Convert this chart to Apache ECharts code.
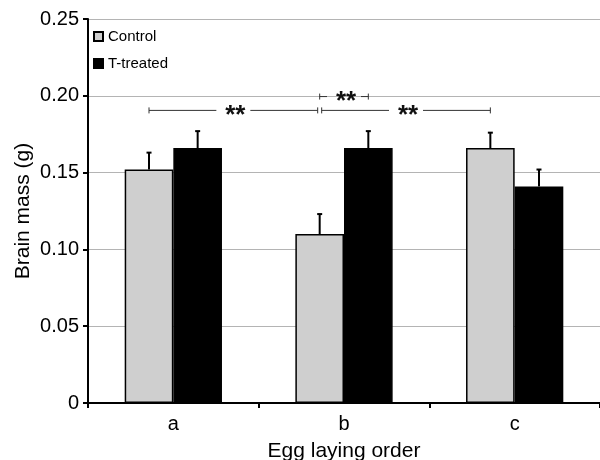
<!DOCTYPE html>
<html>
<head>
<meta charset="utf-8">
<script src="https://cdn.jsdelivr.net/npm/echarts@6/dist/echarts.min.js"></script>
<style>html,body{margin:0;padding:0;background:#fff}#c{width:600px;height:460px}</style>
</head>
<body>
<div id="c"></div>
<script>
var categories = ['a', 'b', 'c'];
var seriesNames = ['Control', 'T-treated'];
var controlMean = [0.152, 0.110, 0.166];
var controlErr = [0.011, 0.013, 0.010];
var treatedMean = [0.166, 0.166, 0.141];
var treatedErr = [0.011, 0.011, 0.011];
var yTicks = [0, 0.05, 0.10, 0.15, 0.20, 0.25];
// significance brackets: [fromCategory, fromSeries, toCategory, toSeries, height]
var bracketFrom = [[0, 0], [1, 0], [1, 0]];
var bracketTo = [[1, 0], [2, 0], [1, 1]];
var bracketY = [0.1905, 0.1905, 0.1995];
var bracketLabel = ['**', '**', '**'];

var FONT = 'Liberation Sans, Arial, sans-serif';
var BAR_GAP_CAT = 0.43;
var sideOffset = (1 - BAR_GAP_CAT) / 4; // fraction of band from category center to bar center

function errData(mean, err) {
  return mean.map(function (m, i) { return [i, m, err[i]]; });
}
function errRender(sideSign) {
  return function (params, api) {
    var x = api.value(0), m = api.value(1), e = api.value(2);
    var band = api.size([1, 0])[0];
    var p0 = api.coord([x, m]);
    var p1 = api.coord([x, m + e]);
    var cx = p0[0] + sideSign * band * sideOffset;
    var st = { stroke: '#000', lineWidth: 2 };
    return {
      type: 'group',
      children: [
        { type: 'line', shape: { x1: cx, y1: p0[1], x2: cx, y2: p1[1] }, style: st },
        { type: 'line', shape: { x1: cx - 2.5, y1: p1[1], x2: cx + 2.5, y2: p1[1] }, style: st }
      ]
    };
  };
}

var bracketData = bracketFrom.map(function (f, i) {
  return [f[0], f[1], bracketTo[i][0], bracketTo[i][1], bracketY[i]];
});

function bracketRender(params, api) {
  var band = api.size([1, 0])[0];
  var a = api.coord([api.value(0), api.value(4)]);
  var b = api.coord([api.value(2), api.value(4)]);
  var x1 = a[0] + (api.value(1) === 0 ? -1 : 1) * band * sideOffset;
  var x2 = b[0] + (api.value(3) === 0 ? -1 : 1) * band * sideOffset;
  if (params.dataIndex === 0) x2 -= 2;
  if (params.dataIndex === 1) x1 += 2;
  var y = a[1];
  var mid = (x1 + x2) / 2;
  var half = 17;
  var st = { stroke: '#333', lineWidth: 1 };
  return {
    type: 'group',
    children: [
      { type: 'line', shape: { x1: x1, y1: y, x2: mid - half, y2: y }, style: st },
      { type: 'line', shape: { x1: mid + half, y1: y, x2: x2, y2: y }, style: st },
      { type: 'line', shape: { x1: x1, y1: y - 3, x2: x1, y2: y + 3 }, style: st },
      { type: 'line', shape: { x1: x2, y1: y - 3, x2: x2, y2: y + 3 }, style: st },
      { type: 'text', style: { text: bracketLabel[params.dataIndex], x: mid + 2, y: y + 5, align: 'center', verticalAlign: 'middle', font: 'bold 26px ' + FONT, fill: '#111' } }
    ]
  };
}

var chart = echarts.init(document.getElementById('c'), null, { renderer: 'canvas' });
chart.setOption({
  animation: false,
  textStyle: { fontFamily: FONT },
  grid: { left: 88, right: 0, top: 19, bottom: 57, containLabel: false, outerBoundsMode: 'none' },
  legend: {
    orient: 'vertical', left: 88, top: 24, itemWidth: 9, itemHeight: 9, itemGap: 12,
    icon: 'rect',
    data: seriesNames,
    textStyle: { fontSize: 15, color: '#000', fontFamily: FONT }
  },
  xAxis: {
    type: 'category', data: categories,
    name: 'Egg laying order', nameLocation: 'middle', nameGap: 38,
    nameTextStyle: { fontSize: 21, color: '#000', fontFamily: FONT },
    axisLine: { lineStyle: { color: '#000', width: 2 } },
    axisTick: { show: true, length: 5, lineStyle: { color: '#000', width: 2 } },
    axisLabel: { fontSize: 20, color: '#000', margin: 11, fontFamily: FONT },
    splitLine: { show: false }
  },
  yAxis: {
    type: 'value', min: 0, max: 0.25, interval: 0.05,
    name: 'Brain mass (g)', nameLocation: 'middle', nameGap: 54, nameMoveOverlap: false,
    nameTextStyle: { fontSize: 21, color: '#000', fontFamily: FONT },
    axisLine: { show: true, lineStyle: { color: '#000', width: 2 } },
    axisTick: { show: true, length: 5, lineStyle: { color: '#000', width: 2 } },
    axisLabel: {
      fontSize: 20, color: '#000', margin: 9, fontFamily: FONT,
      formatter: function (v) {
        var t = yTicks.filter(function (k) { return Math.abs(k - v) < 1e-9; })[0];
        return t === 0 ? '0' : (t !== undefined ? t : v).toFixed(2);
      }
    },
    splitLine: { show: true, lineStyle: { color: '#b4b4b4', width: 1 } }
  },
  series: [
    {
      name: seriesNames[0], type: 'bar', data: controlMean,
      barGap: '0%', barCategoryGap: (BAR_GAP_CAT * 100) + '%',
      itemStyle: { color: '#cfcfcf', borderColor: '#000', borderWidth: 1.5 }
    },
    {
      name: seriesNames[1], type: 'bar', data: treatedMean,
      barGap: '0%', barCategoryGap: (BAR_GAP_CAT * 100) + '%',
      itemStyle: { color: '#000', borderColor: '#000', borderWidth: 1.5 }
    },
    { type: 'custom', data: errData(controlMean, controlErr), renderItem: errRender(-1), z: 5, silent: true },
    { type: 'custom', data: errData(treatedMean, treatedErr), renderItem: errRender(1), z: 5, silent: true },
    { type: 'custom', data: bracketData, renderItem: bracketRender, z: 6, silent: true }
  ]
});
</script>
</body>
</html>
